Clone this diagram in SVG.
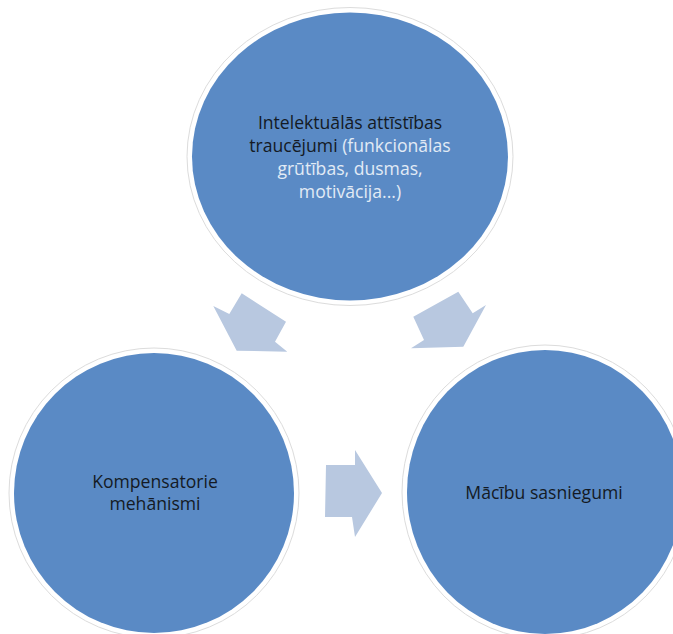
<svg xmlns="http://www.w3.org/2000/svg" width="673" height="634" viewBox="0 0 673 634">
<style>
.node{fill:#5a8ac5;}
.ring{fill:none;stroke:#dcdcdc;stroke-width:1;}
.arrow{fill:#b8c8e0;}
text{font-family:"Open Sans","Liberation Sans",sans-serif;font-size:17.6px;text-anchor:middle;fill:#141a24;}
.light{fill:#e2ebf5;}
</style>
<rect width="673" height="634" fill="#ffffff"/>
<g id="connectors">
<polygon class="arrow" points="236.7,350.7 213.3,306 229.3,314 241.7,293.3 286,321.7 275,341.7 287.3,351.7"/>
<polygon class="arrow" points="463.3,346.7 486,305 472.7,313.3 458.3,291.7 413.3,316.7 424,340 411,348.3"/>
<polygon class="arrow" points="382,493 355,450 355,465 326,465 325,517 352,517 355,537"/>
</g>
<g id="node-top">
<ellipse class="ring" cx="350" cy="156.5" rx="163" ry="149"/>
<ellipse class="node" cx="350" cy="156.5" rx="158" ry="144"/>
<text x="350" y="129">Intelektuālās attīstības</text>
<text x="350" y="152">traucējumi <tspan class="light">(funkcionālas</tspan></text>
<text x="350" y="175" class="light">grūtības, dusmas,</text>
<text x="350" y="198" class="light">motivācija...)</text>
</g>
<g id="node-left">
<ellipse class="ring" cx="154" cy="493" rx="145" ry="145"/>
<ellipse class="node" cx="154" cy="493" rx="140" ry="140"/>
<text x="155" y="488">Kompensatorie</text>
<text x="155" y="510">mehānismi</text>
</g>
<g id="node-right">
<ellipse class="ring" cx="545" cy="492" rx="143" ry="147"/>
<ellipse class="node" cx="545" cy="492" rx="138" ry="142"/>
<text x="544" y="499">Mācību sasniegumi</text>
</g>
</svg>
